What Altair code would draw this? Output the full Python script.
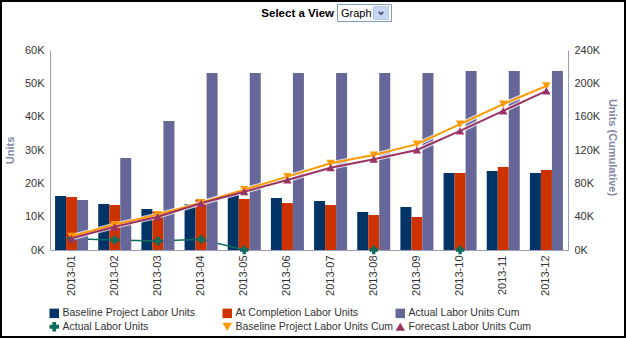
import altair as alt
import pandas as pd

# ---------------- data ----------------
months = ["2013-01", "2013-02", "2013-03", "2013-04", "2013-05", "2013-06",
          "2013-07", "2013-08", "2013-09", "2013-10", "2013-11", "2013-12"]

baseline_units = [16200, 13800, 12300, 13800, 16600, 15600,
                  14700, 11400, 12900, 23100, 23700, 23100]
at_completion_units = [15900, 13500, 11500, 15200, 15300, 14100,
                       13500, 10500, 9900, 23100, 24900, 24000]
actual_units_cum = [60000, 110400, 154800, 212400, 212400, 212400,
                    212400, 212400, 212400, 214800, 214800, 214800]
actual_units = [3400, 3000, 2700, 3200, 0, None,
                None, 0, None, 0, None, None]
baseline_units_cum = [16500, 30500, 42500, 56800, 72400, 88000,
                      104000, 114000, 127000, 151000, 175000, 197000]
forecast_units_cum = [14000, 28000, 40000, 56000, 70000, 84000,
                      98800, 109000, 120000, 143000, 167000, 191000]

series_names = ["Baseline Project Labor Units", "At Completion Labor Units",
                "Actual Labor Units Cum", "Actual Labor Units",
                "Baseline Project Labor Units Cum", "Forecast Labor Units Cum"]
series_colors = ["#003366", "#CC3300", "#666699", "#0E6B5E", "#FF9900", "#993366"]
series_shapes = ["square", "square", "square", "cross", "triangle-down", "triangle-up"]
bar_group = series_names[:3]

left_ticks = [0, 10000, 20000, 30000, 40000, 50000, 60000]
right_ticks = [0, 40000, 80000, 120000, 160000, 200000, 240000]

# ---------------- tables ----------------
bars_df = pd.DataFrame({
    "month": months * 2,
    "series": [series_names[0]] * 12 + [series_names[1]] * 12,
    "value": baseline_units + at_completion_units,
})
cum_bars_df = pd.DataFrame({"month": months, "series": series_names[2], "value": actual_units_cum})
actual_df = pd.DataFrame({"month": months, "series": series_names[3], "value": actual_units})
cum_lines_df = pd.DataFrame({
    "month": months * 2,
    "series": [series_names[4]] * 12 + [series_names[5]] * 12,
    "value": baseline_units_cum + forecast_units_cum,
})

FONT = "Liberation Sans"
AXIS_COL = "#9C9CBC"
TITLE_COL = "#8585A8"

x_enc = alt.X("month:N",
              scale=alt.Scale(domain=months, paddingInner=0.235, paddingOuter=0.1175),
              axis=alt.Axis(title=None, labelAngle=270, labelAlign="right",
                            labelBaseline="middle", labelPadding=5))
xoff_enc = alt.XOffset("series:N", scale=alt.Scale(domain=bar_group, paddingInner=0, paddingOuter=0))

legend = alt.Legend(title=None, orient="none", legendX=-1, legendY=258, columns=3,
                    direction="horizontal", gridAlign="all", columnPadding=1, rowPadding=2.5,
                    symbolSize=90, labelOffset=3, labelLimit=400,
                    labelFont=FONT, labelFontSize=10.5, labelColor="#333333",
                    symbolStrokeWidth=0)
color_enc = alt.Color("series:N", scale=alt.Scale(domain=series_names, range=series_colors),
                      legend=legend)
shape_enc = alt.Shape("series:N", scale=alt.Scale(domain=series_names, range=series_shapes),
                      legend=legend)

y_left = alt.Y("value:Q", scale=alt.Scale(domain=[0, 60000], nice=False),
               axis=alt.Axis(orient="left", values=left_ticks, title="Units",
                             labelExpr="datum.value / 1000 + 'K'",
                             titleX=-40, titleY=100, titleAngle=270,
                             titleAlign="center", titleBaseline="middle"))
y_right = alt.Y("value:Q", scale=alt.Scale(domain=[0, 240000], nice=False),
                axis=alt.Axis(orient="right", values=right_ticks, title="Units (Cumulative)",
                              labelExpr="datum.value / 1000 + 'K'",
                              titleX=43, titleY=97, titleAngle=90,
                              titleAlign="center", titleBaseline="middle"))

# ---------------- left axis layers ----------------
bars = alt.Chart(bars_df).mark_bar().encode(
    x=x_enc, xOffset=xoff_enc, y=y_left, color=color_enc)
actual_line = alt.Chart(actual_df).mark_line(strokeWidth=1.5, invalid="break-paths-show-domains").encode(
    x=x_enc, y=y_left, color=color_enc)
actual_pts = alt.Chart(actual_df).transform_filter("isValid(datum.value)").mark_point(
    filled=True, size=70, opacity=1).encode(
    x=x_enc, y=y_left, color=color_enc, shape=shape_enc)
left_layer = alt.layer(bars, actual_line, actual_pts)

# ---------------- right axis layers ----------------
cum_bars = alt.Chart(cum_bars_df).mark_bar().encode(
    x=x_enc, xOffset=xoff_enc, y=y_right, color=color_enc)
cum_halo = alt.Chart(cum_lines_df).mark_line(strokeWidth=4.5, color="#FFFFFF", opacity=0.7).encode(
    x=x_enc, y=y_right, detail="series:N")
cum_lines = alt.Chart(cum_lines_df).mark_line(strokeWidth=2).encode(
    x=x_enc, y=y_right, color=color_enc)
cum_pts = alt.Chart(cum_lines_df).mark_point(filled=True, size=70, opacity=1).encode(
    x=x_enc, y=y_right, color=color_enc, shape=shape_enc)
right_layer = alt.layer(cum_bars, cum_halo, cum_lines, cum_pts)

# ---------------- header: "Select a View" + dropdown ----------------
one = alt.Data(values=[{"label": "Select a View", "choice": "Graph"}])
head_text = alt.Chart(one).mark_text(font=FONT, fontSize=11.5, fontWeight="bold",
                                     color="#000000", align="right", baseline="middle").encode(
    text="label:N", x=alt.value(284), y=alt.value(-36))
drop_box = alt.Chart(one).mark_rect(fill="#FFFFFF", stroke="#7F9DB9", strokeWidth=1).encode(
    x=alt.value(287.5), x2=alt.value(341.5), y=alt.value(-45.5), y2=alt.value(-28.5))
drop_btn = alt.Chart(one).mark_rect(fill="#C8D6F4", stroke="#B8C8E8", strokeWidth=1).encode(
    x=alt.value(323.5), x2=alt.value(338.5), y=alt.value(-43.5), y2=alt.value(-30.5))
drop_arrow = alt.Chart(one).mark_point(shape="M -1 -0.45 L 0 0.45 L 1 -0.45", filled=False,
                                       size=22, strokeWidth=2, color="#4D6185", opacity=1).encode(
    x=alt.value(331), y=alt.value(-37))
drop_text = alt.Chart(one).mark_text(font=FONT, fontSize=11, color="#000000",
                                     align="left", baseline="middle").encode(
    text="choice:N", x=alt.value(291), y=alt.value(-36))
frame = alt.Chart(one).mark_rect(fill=None, stroke="#000000", strokeWidth=2).encode(
    x=alt.value(-49), x2=alt.value(575), y=alt.value(-49), y2=alt.value(287))

chart = alt.layer(left_layer, right_layer, head_text, drop_box, drop_btn, drop_arrow,
                  drop_text, frame).resolve_scale(y="independent").properties(
    width=518, height=200,
    padding={"left": 50, "top": 50, "right": 58, "bottom": 88},
    autosize=alt.AutoSizeParams(type="none"),
    background="#FFFFFF",
).configure_view(stroke=None).configure_axis(
    domainColor=AXIS_COL, domainWidth=1, ticks=False, grid=False,
    labelFont=FONT, labelFontSize=11, labelColor="#333333", labelPadding=6,
    titleFont=FONT, titleFontSize=11, titleFontWeight="bold", titleColor=TITLE_COL,
)

chart.save("out.html", embed_options={"renderer": "svg", "actions": False})
